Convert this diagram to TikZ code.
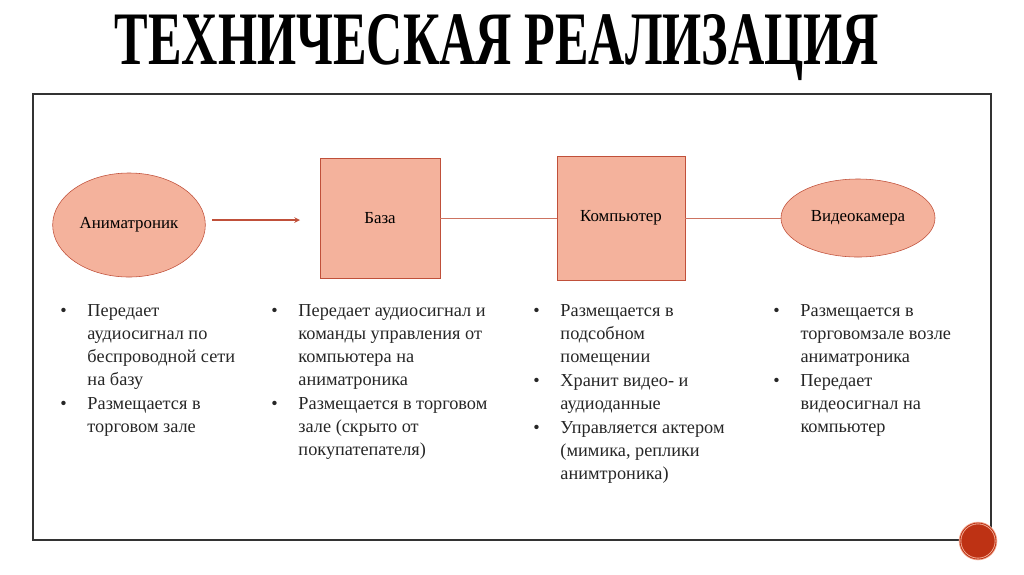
\documentclass[tikz,border=0pt]{standalone}
\usepackage{fontspec}
\setmainfont{Liberation Serif}
\usetikzlibrary{shapes.geometric, arrows, positioning}
\definecolor{salmonfill}{RGB}{244, 178, 156}
\definecolor{rustborder}{RGB}{192, 80, 58}
\definecolor{darkred}{RGB}{190, 50, 20}
\newcommand{\bul}[1]{\makebox[0.68cm][l]{•}\begin{tabular}[t]{@{}l@{}}#1\end{tabular}\\}

\begin{document}
\begin{tikzpicture}[
    x=0.025cm, y=-0.025cm,
    device/.style={rectangle, minimum width=3cm, minimum height=3cm, draw=rustborder, fill=salmonfill, font=\large},
    oval/.style={ellipse, draw=rustborder, fill=salmonfill, font=\large},
    notes/.style={anchor=north west, align=left, inner sep=0pt, font=\fontsize{13}{16.3}\selectfont, text=black!85},
    link/.style={draw=rustborder!80, thin},
    arrow/.style={draw=rustborder, thick, ->, >=stealth}
]
\useasboundingbox (0,0) rectangle (1024,574);

% Title
\node (title) at (497,48) {\resizebox{19.1cm}{1.25cm}{\bfseries ТЕХНИЧЕСКАЯ РЕАЛИЗАЦИЯ}};

% Frame
\draw [black!80, thick] (33,94) rectangle (991,540);

% Devices
\node (animatronic) [oval, minimum width=3.65cm, minimum height=2.6cm] at (129,225) {Аниматроник};
\node (base) [device] at (380,218) {База};
\node (computer) [device, minimum width=3.2cm, minimum height=3.1cm] at (621,218) {Компьютер};
\node (camera) [oval, minimum width=3.85cm, minimum height=1.95cm] at (858,218) {Видеокамера};

% Connectors
\coordinate (arrowstart) at (212,220);
\coordinate (arrowend) at (300,220);
\draw [arrow] (arrowstart) -- (arrowend);
\draw [link] (base) -- (computer);
\draw [link] (computer) -- (camera);

% Notes
\node (noteA) [notes] at (60,300) {\bul{Передает\\ аудиосигнал по\\ беспроводной сети\\ на базу}\bul{Размещается в\\ торговом зале}};
\node (noteB) [notes] at (271,300) {\bul{Передает аудиосигнал и\\ команды управления от\\ компьютера на\\ аниматроника}\bul{Размещается в торговом\\ зале (скрыто от\\ покупатепателя)}};
\node (noteC) [notes] at (533,300) {\bul{Размещается в\\ подсобном\\ помещении}\bul{Хранит видео- и\\ аудиоданные}\bul{Управляется актером\\ (мимика, реплики\\ анимтроника)}};
\node (noteD) [notes] at (773,300) {\bul{Размещается в\\ торговомзале возле\\ аниматроника}\bul{Передает\\ видеосигнал на\\ компьютер}};

% Page badge
\node (badge) [circle, minimum size=0.9cm, fill=darkred, draw=salmonfill, double=darkred, line width=0.6pt] at (978,541) {};
\end{tikzpicture}
\end{document}
